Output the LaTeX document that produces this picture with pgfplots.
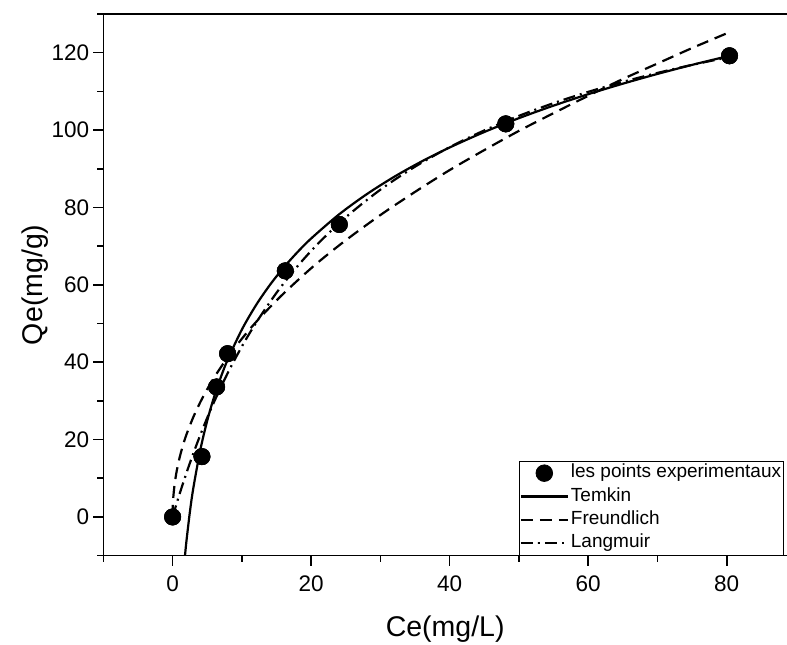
\documentclass[border=0pt]{standalone}
\usepackage{fontspec}
\setmainfont{Liberation Sans}
\usepackage{pgfplots}
\pgfplotsset{compat=1.18}
\begin{document}
\begin{tikzpicture}
\begin{axis}[
  name=ax,
  scale only axis,
  width=683.5pt, height=541.5pt,
  xmin=-10, xmax=88.7, ymin=-10, ymax=130,
  axis x line=box, axis y line*=left,
  xtick pos=left, ytick pos=left,
  axis line style={line width=1.6pt, black},
  xtick={0,20,40,60,80},
  ytick={0,20,40,60,80,100,120},
  minor xtick={-10,10,30,50,70},
  minor ytick={-10,10,30,50,70,90,110,130},
  tick align=outside,
  major tick length=10pt, minor tick length=6pt,
  every tick/.style={line width=1.6pt, black},
  /pgf/number format/assume math mode=true,
  ticklabel style={font=\fontsize{22.5}{22.5}\selectfont},
  xticklabel style={inner sep=0pt, anchor=north, yshift=-10pt},
  yticklabel style={inner sep=0pt, anchor=east, xshift=-4pt},
  xlabel={Ce(mg/L)}, ylabel={Qe(mg/g)},
  every axis x label/.style={at={(rel axis cs:0.5,0)}, anchor=base, yshift=-81pt,
    font=\fontsize{28.5}{28.5}\selectfont},
  every axis y label/.style={at={(rel axis cs:0,0.5)}, rotate=90, anchor=center, yshift=68pt,
    font=\fontsize{28.5}{28.5}\selectfont},
  legend cell align=left,
  legend style={at={(axis cs:88.2,-10)}, anchor=south east, draw=black, line width=0.8pt,
    inner xsep=0pt, inner ysep=0.5pt, row sep=0pt,
    font=\fontsize{19}{19}\selectfont,
    nodes={text height=14pt, text depth=4.5pt, inner ysep=2.4pt, inner xsep=2pt}},
  legend image code/.code={\draw[mark repeat=2, mark phase=2, #1] plot coordinates {(0pt,0pt) (23.5pt,0pt) (47pt,0pt)};},
]
\addplot[only marks, mark=*, mark size=8.3pt, black] coordinates {
(0,0) (4.24,15.6) (6.35,33.6) (7.94,42.2) (16.27,63.6) (24.07,75.6) (48.1,101.6) (80.4,119.2)};
\addlegendentry{les points experimentaux}
\addplot[black, line width=2.2pt, smooth] coordinates {
(1.79,-10) (2,-6.23) (2.5,1.34) (3,7.54) (4,17.31) (5,24.88) (6,31.08) (7,36.31) (8,40.85)
(10,48.43) (12,54.62) (14,59.85) (16,64.39) (18,68.39) (20,71.97) (24,78.16) (28,83.39)
(32,87.93) (36,91.93) (40,95.50) (45,99.50) (50,103.08) (55,106.32) (60,109.27)
(65,111.99) (70,114.51) (75,116.85) (80.4,119.2)};
\addlegendentry{Temkin}
\addplot[black, line width=2.2pt, smooth, dash pattern=on 12pt off 7pt] coordinates {
(0,0) (0.02,2.33) (0.1,5.05) (0.3,8.56) (0.6,11.94) (1,15.26) (1.5,18.54) (2,21.29) (3,25.85)
(4,29.67) (5,33.02) (6,36.05) (8,41.40) (10,46.06) (12,50.29) (15,55.96) (18,61.06)
(21,65.81) (25,71.52) (30,78.04) (35,84.02) (40,89.66) (45,94.83) (50,99.79) (55,104.37)
(60,108.85) (65,113.19) (70,117.2) (75,121.2) (80.4,125.3)};
\addlegendentry{Freundlich}
\addplot[black, line width=2.2pt, smooth, dash pattern=on 12pt off 5pt on 2pt off 5pt] coordinates {
(0,0) (0.5,3.00) (1,5.90) (2,11.37) (3,16.45) (4,21.19) (5,25.63) (6,29.78) (8,37.34)
(10,44.05) (12,50.04) (15,57.93) (18,64.73) (21,70.65) (25,77.46) (30,84.59) (35,90.54)
(40,95.58) (45,99.91) (50,103.67) (55,106.96) (60,109.87) (65,112.45) (70,114.77)
(75,116.85) (80.4,118.88)};
\addlegendentry{Langmuir}
\addplot[only marks, mark=*, mark size=8.3pt, black, forget plot] coordinates {
(0,0) (4.24,15.6) (6.35,33.6) (7.94,42.2) (16.27,63.6) (24.07,75.6) (48.1,101.6) (80.4,119.2)};
\end{axis}
\pgfresetboundingbox
\path[use as bounding box] ([xshift=-103.3pt,yshift=-88.5pt]ax.south west) rectangle ([yshift=14pt]ax.north east);
\end{tikzpicture}
\end{document}
